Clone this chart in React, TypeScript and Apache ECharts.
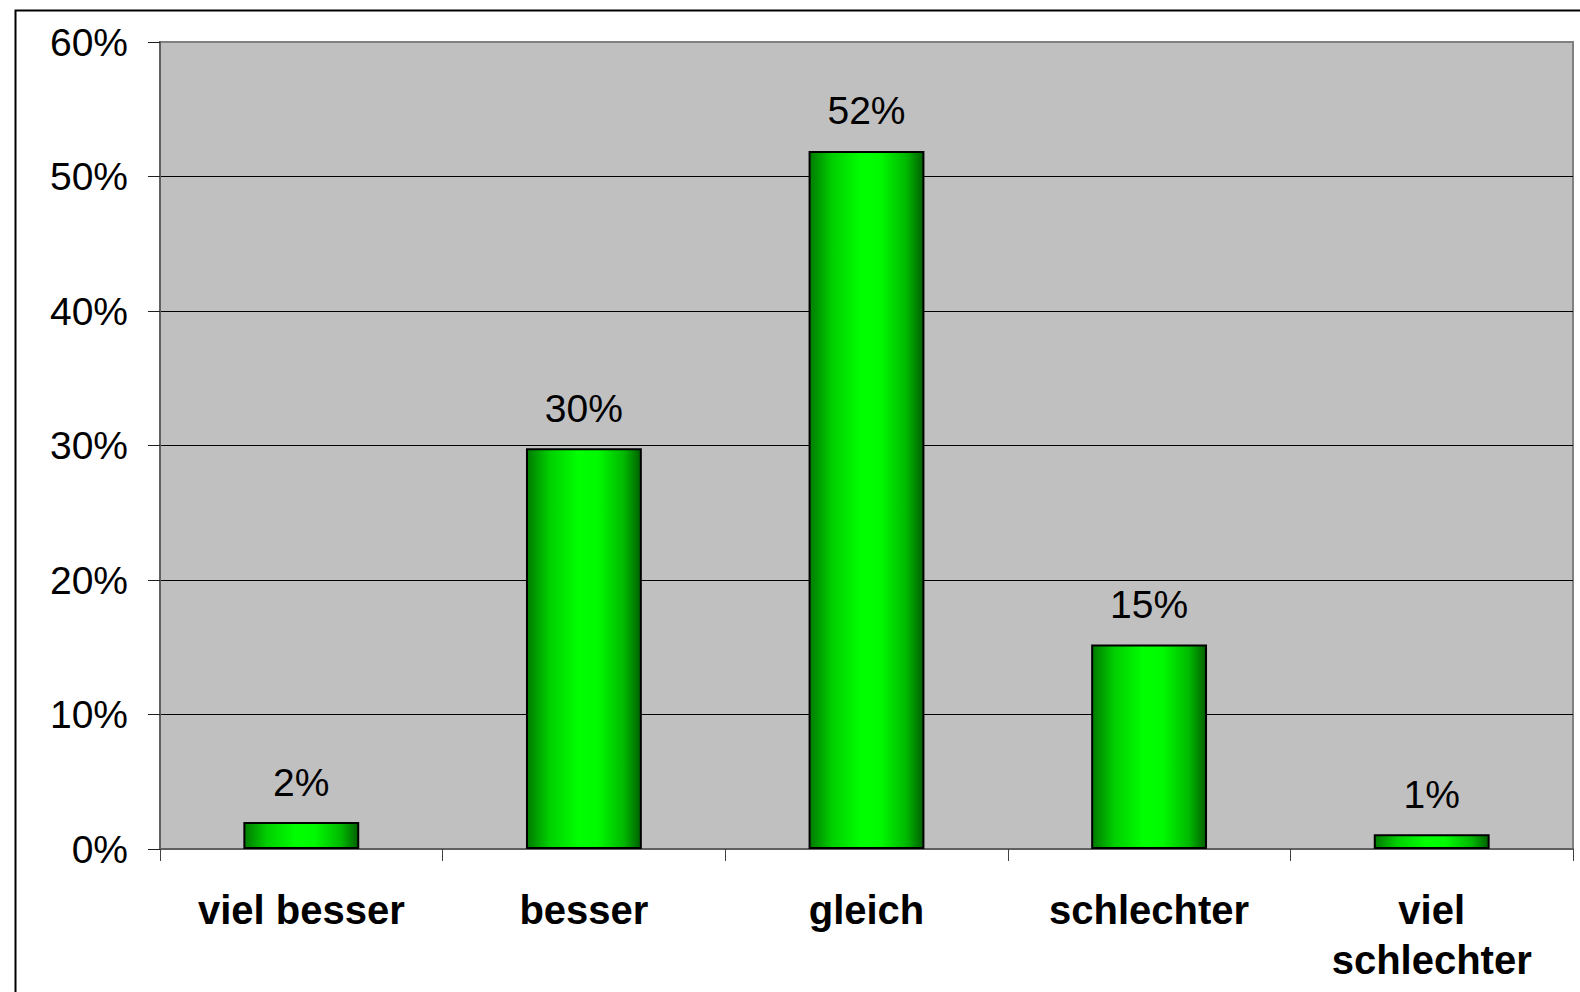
import React, { useEffect, useRef } from "react";
import * as echarts from "echarts";

const categories = ["viel besser", "besser", "gleich", "schlechter", "viel\nschlechter"];
const values = [2.0, 29.8, 51.9, 15.2, 1.1];
const yTicks = [0, 10, 20, 30, 40, 50, 60];

const FONT = "'Liberation Sans', Arial, sans-serif";

export default function App() {
  const ref = useRef<HTMLDivElement>(null);
  useEffect(() => {
    if (!ref.current) return;
    const chart = echarts.init(ref.current, undefined, { renderer: "svg" });
    const barGradient = new echarts.graphic.LinearGradient(0, 0, 1, 0, [
      { offset: 0, color: "#007a00" },
      { offset: 0.2, color: "#00d000" },
      { offset: 0.45, color: "#00ff00" },
      { offset: 0.62, color: "#00fa00" },
      { offset: 0.85, color: "#00b800" },
      { offset: 1, color: "#006000" },
    ]);
    chart.setOption({
      animation: false,
      backgroundColor: "#ffffff",
      grid: {
        left: 160,
        top: 42,
        width: 1413,
        bottom: 143,
        show: true,
        backgroundColor: "#c0c0c0",
        borderColor: "#808080",
        borderWidth: 2,
      },
      xAxis: {
        type: "category",
        data: categories,
        boundaryGap: true,
        axisLine: { show: true, lineStyle: { color: "#606060", width: 2 } },
        axisTick: { show: true, length: 12, lineStyle: { color: "#404040", width: 1 } },
        axisLabel: {
          interval: 0,
          margin: 36,
          fontFamily: FONT,
          fontSize: 40,
          fontWeight: "bold",
          color: "#000",
          lineHeight: 50,
        },
        splitLine: { show: false },
      },
      yAxis: {
        type: "value",
        min: yTicks[0],
        max: yTicks[yTicks.length - 1],
        interval: 10,
        axisLine: { show: true, lineStyle: { color: "#606060", width: 2 } },
        axisTick: { show: true, length: 12, lineStyle: { color: "#202020", width: 1 } },
        axisLabel: {
          margin: 32,
          fontFamily: FONT,
          fontSize: 39,
          color: "#000",
          formatter: (v: number) => `${v}%`,
        },
        splitLine: {
          show: true,
          lineStyle: {
            color: ["#606060", "#000", "#000", "#000", "#000", "#000", "#808080"],
            width: 1,
          },
        },
      },
      series: [
        {
          type: "bar",
          data: values,
          barWidth: "41%",
          itemStyle: { color: barGradient, borderColor: "#000", borderWidth: 2 },
          label: {
            show: true,
            position: "top",
            distance: 21,
            fontFamily: FONT,
            fontSize: 39,
            lineHeight: 38,
            color: "#000",
            formatter: (p: any) => `${Math.round(p.value)}%`,
          },
        },
      ],
      graphic: [
        {
          type: "rect",
          left: 13,
          top: 8,
          shape: { x: 0, y: 0, width: 1620, height: 1020 },
          style: { fill: "none", stroke: "#000", lineWidth: 2 },
          silent: true,
        },
      ],
    });
    return () => chart.dispose();
  }, []);
  return (
    <div
      ref={ref}
      style={{ position: "fixed", left: 0, top: 0, width: 1580, height: 992 }}
    />
  );
}
